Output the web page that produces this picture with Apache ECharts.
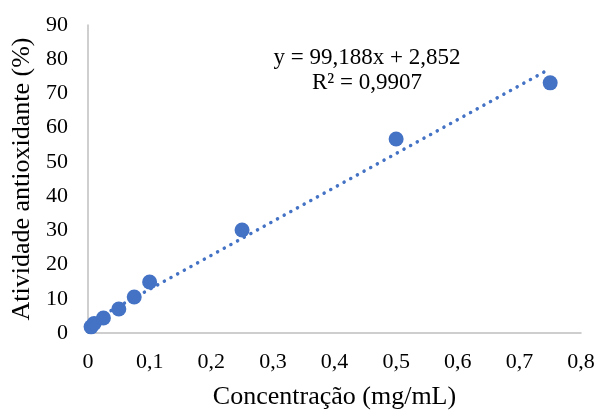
<!DOCTYPE html>
<html lang="pt">
<head>
    <meta charset="utf-8">
    <script src="https://cdn.jsdelivr.net/npm/echarts@6/dist/echarts.min.js"></script>
    <style>
        html, body { margin:0; padding:0; background:#fff; }
        #main { width:598px; height:410px; }
    </style>
</head>
<body>
<div id="main"></div>
<script type="text/javascript">
    // dados
    var concentracao = [0.005, 0.01, 0.025, 0.05, 0.075, 0.1, 0.25, 0.5, 0.75];
    var atividade = [1.8, 2.8, 4.4, 7.0, 10.5, 14.9, 30.1, 56.7, 73.1];
    var slope = 99.188, intercept = 2.852;
    var eqText = ['y = 99,188x + 2,852', 'R² = 0,9907'];

    var pontos = [];
    for (var i = 0; i < concentracao.length; i++) {
        pontos.push([concentracao[i], atividade[i]]);
    }
    // linha de tendência a partir da equação
    var x0 = concentracao[0], x1 = concentracao[concentracao.length - 1];
    var tendencia = [[x0, slope * x0 + intercept], [x1, slope * x1 + intercept]];

    var font = '"Liberation Serif", "Times New Roman", serif';
    var myChart = echarts.init(document.getElementById('main'));
    myChart.setOption({
        animation: false,
        grid: { left: 88, right: 17, top: 25, bottom: 77, outerBoundsMode: 'none' },
        xAxis: {
            type: 'value', min: 0, max: 0.8, interval: 0.1,
            name: 'Concentração (mg/mL)', nameLocation: 'middle', nameGap: 51,
            nameTextStyle: { fontFamily: font, fontSize: 26, color: '#000' },
            axisLine: { show: true, lineStyle: { color: '#bfbfbf', width: 1.5 } },
            axisTick: { show: false },
            splitLine: { show: false },
            axisLabel: {
                fontFamily: font, fontSize: 22, color: '#000', margin: 18,
                formatter: function (v) { return String(Math.round(v * 10) / 10).replace('.', ','); }
            }
        },
        yAxis: {
            type: 'value', min: 0, max: 90, interval: 10,
            name: 'Atividade antioxidante (%)', nameLocation: 'middle', nameGap: 48,
            nameTextStyle: { fontFamily: font, fontSize: 26, color: '#000' },
            axisLine: { show: true, lineStyle: { color: '#bfbfbf', width: 1.5 } },
            axisTick: { show: false },
            splitLine: { show: false },
            axisLabel: { fontFamily: font, fontSize: 22, color: '#000', margin: 20 }
        },
        graphic: [{
            type: 'text', x: 367, y: 45,
            style: {
                text: eqText.join('\n'), fontFamily: font, fontSize: 23,
                fill: '#000', align: 'center', verticalAlign: 'top', lineHeight: 25
            }
        }],
        series: [{
            type: 'line',
            data: tendencia,
            symbol: 'none',
            lineStyle: { color: '#4472c4', width: 3.5, type: [0.1, 7.5], cap: 'round' },
            silent: true
        }, {
            type: 'scatter',
            data: pontos,
            symbolSize: 15,
            itemStyle: { color: '#4472c4', opacity: 1 }
        }]
    });
</script>
</body>
</html>
